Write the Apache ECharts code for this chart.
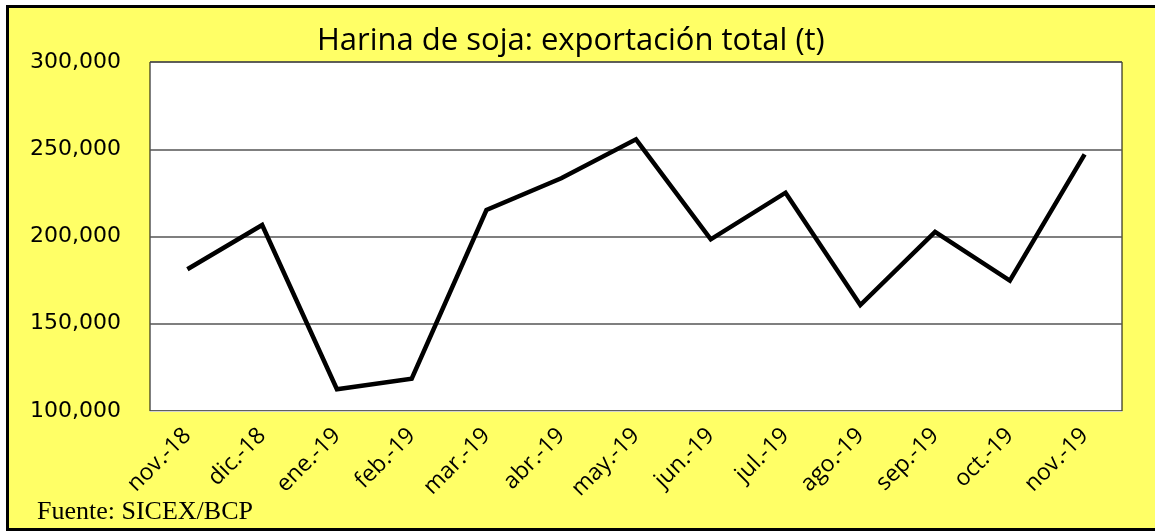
<!DOCTYPE html>
<html>
<head>
<meta charset="utf-8">
<script src="https://cdn.jsdelivr.net/npm/echarts@6/dist/echarts.min.js"></script>
<style>
  html, body { margin: 0; padding: 0; background: #fff; }
  #chart { width: 1155px; height: 532px; }
</style>
</head>
<body>
<div id="chart"></div>
<script>
// meses (eje x)
var months = ['nov.-18', 'dic.-18', 'ene.-19', 'feb.-19', 'mar.-19', 'abr.-19', 'may.-19',
              'jun.-19', 'jul.-19', 'ago.-19', 'sep.-19', 'oct.-19', 'nov.-19'];
// exportacion total, toneladas
var exportTotal = [181200, 206600, 112500, 118500, 215200, 233400, 255700,
                   198400, 225100, 160700, 202600, 174700, 247100];
// eje y
var yMin = 100000, yMax = 300000, yStep = 50000;

var myChart = echarts.init(document.getElementById('chart'));

myChart.setOption({
    backgroundColor: '#ffffff',
    animation: false,
    graphic: [{
        type: 'rect',
        z: -10,
        silent: true,
        shape: { x: 7.5, y: 6.5, width: 1170, height: 523 },
        style: { fill: '#FFFF66', stroke: '#000', lineWidth: 3 }
    }, {
        type: 'text',
        left: 37,
        top: 499,
        style: {
            text: 'Fuente: SICEX/BCP',
            font: '26px "Liberation Serif"',
            fill: '#000'
        }
    }],
    title: {
        text: 'Harina de soja: exportación total (t)',
        left: 317,
        top: 26,
        padding: 0,
        textStyle: { fontFamily: 'Open Sans', fontSize: 31, fontWeight: 'normal', color: '#000' }
    },
    grid: {
        left: 150,
        right: 33,
        top: 62,
        bottom: 121,
        show: true,
        backgroundColor: '#fff',
        borderColor: '#000',
        borderWidth: 1
    },
    xAxis: {
        type: 'category',
        data: months,
        boundaryGap: true,
        axisLine: { lineStyle: { color: '#d0d0d0', width: 1 } },
        axisTick: { show: false },
        axisLabel: {
            rotate: 45,
            margin: 21,
            interval: 0,
            fontFamily: 'Open Sans',
            fontSize: 23,
            color: '#000'
        }
    },
    yAxis: {
        type: 'value',
        min: yMin,
        max: yMax,
        interval: yStep,
        axisLine: { show: false },
        axisTick: { show: false },
        splitLine: { lineStyle: { color: '#555', width: 1.5 } },
        axisLabel: {
            margin: 29,
            fontFamily: 'DejaVu Sans',
            fontSize: 22,
            color: '#000',
            formatter: function (v) { return v.toLocaleString('en-US'); }
        }
    },
    series: [{
        type: 'line',
        data: exportTotal,
        symbol: 'none',
        lineStyle: { color: '#000', width: 4.5, join: 'miter' }
    }]
});
</script>
</body>
</html>
